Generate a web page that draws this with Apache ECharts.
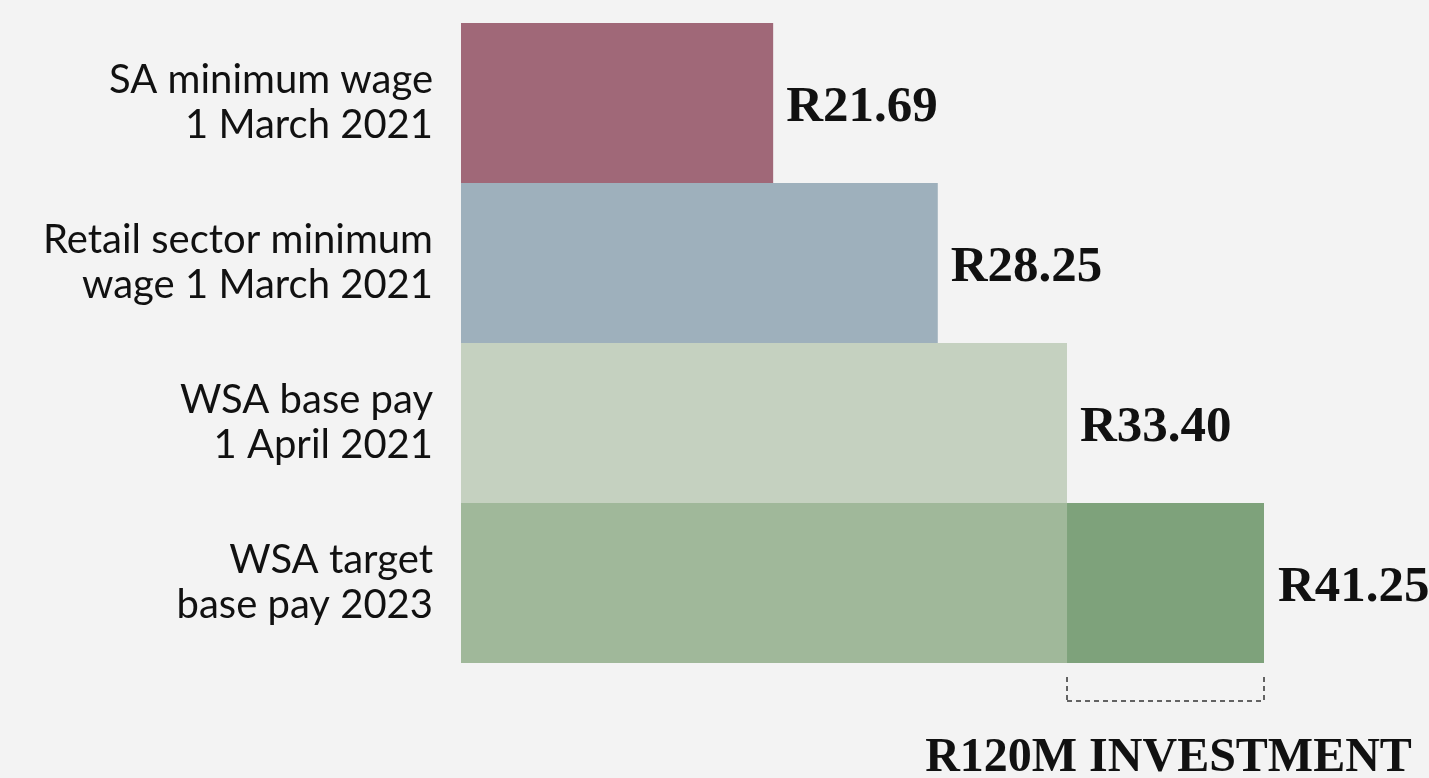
<!DOCTYPE html>
<html>
<head>
<meta charset="utf-8">
<script src="https://cdn.jsdelivr.net/npm/echarts@6/dist/echarts.min.js"></script>
<style>
  html, body { margin: 0; padding: 0; background: #f3f3f3; }
  #chart { width: 1429px; height: 778px; }
</style>
</head>
<body>
<div id="chart"></div>
<script>
const categories = [
  'SA minimum wage\n1 March 2021',
  'Retail sector minimum\nwage 1 March 2021',
  'WSA base pay\n1 April 2021',
  'WSA target\nbase pay 2023'
]
const baseValues = [21.69, 28.25, 33.40, 33.40]
const investment = [null, null, null, 7.85]
const totals = [21.69, 28.25, 33.40, 41.25]
const investmentLabel = 'R120M INVESTMENT'

const baseColors = ['#a06878', '#9eb0bc', '#c5d1c0', '#a0b89a']
const valueFont = {
  fontFamily: 'Liberation Serif',
  fontWeight: 'bold',
  fontSize: 51,
  color: '#111'
}

const chart = echarts.init(document.getElementById('chart'))

const option = {
  backgroundColor: '#f3f3f3',
  animation: false,
  grid: { left: 461, right: 165, top: 23, bottom: 115 },
  xAxis: {
    type: 'value',
    min: 9.25,
    max: 41.25,
    show: false
  },
  yAxis: {
    type: 'category',
    inverse: true,
    data: categories,
    axisLine: { show: false },
    axisTick: { show: false },
    axisLabel: {
      margin: 28,
      fontFamily: 'Lato',
      fontWeight: 400,
      fontSize: 40,
      lineHeight: 45,
      color: '#111',
      align: 'right'
    }
  },
  series: [
    {
      type: 'bar',
      stack: 'pay',
      barCategoryGap: '0%',
      data: baseValues.map((v, i) => ({
        value: v,
        itemStyle: { color: baseColors[i] },
        label: { show: investment[i] == null }
      })),
      label: Object.assign({
        position: 'right',
        distance: 13,
        offset: [0, 5],
        formatter: p => 'R' + totals[p.dataIndex].toFixed(2)
      }, valueFont)
    },
    {
      type: 'bar',
      stack: 'pay',
      barCategoryGap: '0%',
      itemStyle: { color: '#7ea27b' },
      data: investment,
      label: Object.assign({
        show: true,
        position: 'right',
        distance: 14,
        offset: [0, 5],
        formatter: p => 'R' + totals[p.dataIndex].toFixed(2)
      }, valueFont)
    }
  ]
}
chart.setOption(option)

// bracket under the investment part of the last bar
const last = categories.length - 1
const p0 = chart.convertToPixel({ gridIndex: 0 }, [baseValues[last], last])
const p1 = chart.convertToPixel({ gridIndex: 0 }, [totals[last], last])
const barBottom = chart.getHeight() - 115
const dash = { stroke: '#333', lineWidth: 1.5, lineDash: [5, 4] }
chart.setOption({
  graphic: [
    { type: 'line', shape: { x1: p0[0], y1: barBottom + 14, x2: p0[0], y2: barBottom + 38 }, style: dash },
    { type: 'line', shape: { x1: p1[0], y1: barBottom + 14, x2: p1[0], y2: barBottom + 38 }, style: dash },
    { type: 'line', shape: { x1: p0[0], y1: barBottom + 38, x2: p1[0], y2: barBottom + 38 }, style: dash },
    {
      type: 'text',
      x: (p0[0] + p1[0]) / 2 + 3,
      y: barBottom + 96,
      style: {
        text: investmentLabel,
        align: 'center',
        verticalAlign: 'middle',
        fill: '#111',
        font: 'bold 48px "Liberation Serif"'
      }
    }
  ]
})
</script>
</body>
</html>
